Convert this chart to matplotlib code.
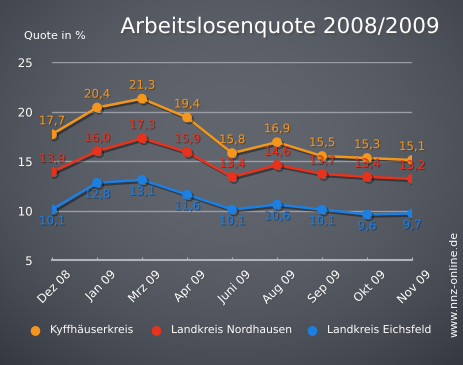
import numpy as np
import matplotlib
matplotlib.use("Agg")
import matplotlib.pyplot as plt
import matplotlib.patheffects as pe
import matplotlib.transforms as mtrans

months = ["Dez 08", "Jan 09", "Mrz 09", "Apr 09", "Juni 09", "Aug 09", "Sep 09", "Okt 09", "Nov 09"]
kyff = [17.7, 20.4, 21.3, 19.4, 15.8, 16.9, 15.5, 15.3, 15.1]
nord = [13.9, 16.0, 17.3, 15.9, 13.4, 14.6, 13.7, 13.4, 13.2]
eichs = [10.1, 12.8, 13.1, 11.6, 10.1, 10.6, 10.1, 9.6, 9.7]
names = ["Kyffhäuserkreis", "Landkreis Nordhausen", "Landkreis Eichsfeld"]
yticks = [5, 10, 15, 20, 25]

colors = ["#f4961c", "#e8321c", "#1c7fe2"]
bg = "#4b525b"

fig = plt.figure(figsize=(4.64, 3.65), dpi=100)
fig.patch.set_facecolor(bg)

# vignette background
bgax = fig.add_axes([0, 0, 1, 1], zorder=-10)
gy, gx = np.mgrid[0:1:365j, 0:1:464j]
d = np.sqrt(((gx - 0.5) / 0.75) ** 2 + ((gy - 0.4) / 0.8) ** 2)
light = np.array([0x60, 0x65, 0x6e]) / 255
dark = np.array([0x34, 0x38, 0x41]) / 255
t = np.clip(d, 0, 1)[..., None] ** 2
img = light * (1 - t) + dark * t
bgax.imshow(img, aspect="auto", extent=[0, 1, 0, 1], origin="upper")
bgax.axis("off")

ax = fig.add_axes([52 / 464, 1 - 260 / 365, 360 / 464, 198 / 365])
ax.set_facecolor("none")

x = np.arange(len(months))
ax.set_xlim(0, len(months) - 1)
ax.set_ylim(5, 25)

for y in yticks[1:]:
    ax.axhline(y, color="#9a9ea4", lw=1, zorder=1)

series = [kyff, nord, eichs]
offsets = [5, 5, -3.5]
for vals, c, off in zip(series, colors, offsets):
    ax.plot(x, vals, color=c, lw=1.8, marker="o", ms=6, zorder=3,
            path_effects=[pe.SimpleLineShadow(offset=(1.5, -1.5), alpha=0.4), pe.Normal()])
    for xi, v in zip(x, vals):
        ax.annotate(f"{v:.1f}".replace(".", ","), (xi, v), xytext=(0, off),
                    textcoords="offset points", ha="center",
                    va="bottom" if off > 0 else "top", color=c, fontsize=8.5,
                    path_effects=[pe.withSimplePatchShadow(offset=(0.8, -0.8), alpha=0.5)], zorder=4)

for s in ["top", "right", "left"]:
    ax.spines[s].set_visible(False)
ax.spines["bottom"].set_color("#b0b3b7")
ax.spines["bottom"].set_linewidth(1.5)
ax.tick_params(axis="x", colors="#b0b3b7", length=2, direction="in")
ax.tick_params(axis="y", length=0, pad=14)
ax.set_yticks(yticks)
ax.set_yticklabels([str(t) for t in yticks], color="white", fontsize=8.5)
ax.set_xticks(x)
ax.set_xticklabels(months, rotation=45, ha="right", va="top", rotation_mode="anchor",
                   color="white", fontsize=8.5)
shift = mtrans.ScaledTranslation(12 / 100, -3 / 100, fig.dpi_scale_trans)
for lbl in ax.get_xticklabels():
    lbl.set_transform(lbl.get_transform() + shift)
for lbl in ax.get_xticklabels() + ax.get_yticklabels():
    lbl.set_path_effects([pe.withSimplePatchShadow(offset=(1, -1), alpha=0.6)])

fig.text(280 / 464, 1 - 27 / 365, "Arbeitslosenquote 2008/2009", ha="center", va="center",
         color="white", fontsize=15.5, family="DejaVu Sans",
         path_effects=[pe.withSimplePatchShadow(offset=(1.5, -1.5), alpha=0.6)])
fig.text(24 / 464, 1 - 36 / 365, "Quote in %", ha="left", va="center", color="white", fontsize=8)

fig.text(455 / 464, 1 - 284 / 365, "www.nnz-online.de", rotation=90, ha="center", va="center",
         color="white", fontsize=8)

leg_x = [35, 156, 312]
for lx, name, c in zip(leg_x, names, colors):
    fig.text(lx / 464, 1 - 330 / 365, "\u25CF", color=c, fontsize=9, ha="center", va="center")
    fig.text((lx + 15) / 464, 1 - 330 / 365, name, color="white", fontsize=7.8, ha="left",
             va="center", path_effects=[pe.withSimplePatchShadow(offset=(1, -1), alpha=0.6)])

fig.savefig("out.png", dpi=100)
